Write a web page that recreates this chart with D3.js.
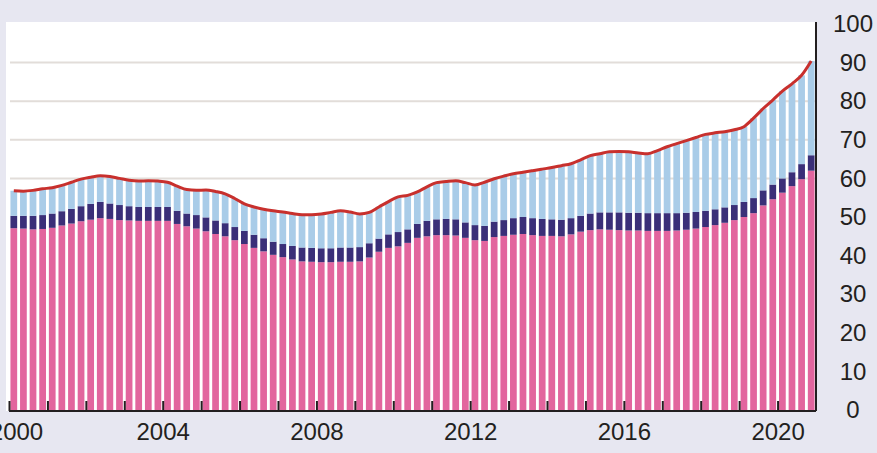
<!DOCTYPE html>
<html>
<head>
<meta charset="utf-8">
<script src="https://cdn.jsdelivr.net/npm/d3@7"></script>
<style>
  html, body { margin: 0; padding: 0; background: #e7e7f1; }
  svg { display: block; font-family: "Liberation Sans", Arial, Helvetica, sans-serif; }
</style>
</head>
<body>
<svg id="chart" width="877" height="453"></svg>
<script>
// ---- Data (quarterly, 2000Q1 - 2020Q4) ----
const years = d3.range(2000, 2021);
const quarters = years.flatMap(yr => ["Q1", "Q2", "Q3", "Q4"].map(q => yr + q));

const pinkValues = [
  47.1, 47.0, 46.8, 46.9, 47.2, 47.8, 48.3, 48.9, 49.3, 49.7, 49.5, 49.2,
  49.1, 49.0, 49.0, 49.0, 49.0, 48.2, 47.6, 47.0, 46.3, 45.6, 45.0, 44.0,
  43.0, 42.0, 41.1, 40.2, 39.6, 39.0, 38.5, 38.4, 38.3, 38.3, 38.4, 38.4,
  38.5, 39.5, 41.0, 42.0, 42.4, 43.3, 44.6, 45.0, 45.3, 45.3, 45.2, 44.6,
  44.0, 43.8, 44.8, 45.1, 45.4, 45.6, 45.3, 45.1, 45.1, 45.0, 45.5, 46.2,
  46.6, 46.8, 46.7, 46.6, 46.5, 46.5, 46.4, 46.4, 46.4, 46.5, 46.7, 47.0,
  47.4, 47.9, 48.5, 49.2, 50.0, 51.0, 53.0, 54.6, 56.3, 58.0, 59.8, 62.0
];
const darkValues = [
  3.2, 3.3, 3.5, 3.6, 3.7, 3.7, 3.8, 3.9, 4.1, 4.2, 4.0, 3.9,
  3.7, 3.6, 3.6, 3.6, 3.6, 3.4, 3.3, 3.5, 3.6, 3.5, 3.4, 3.4,
  3.4, 3.4, 3.4, 3.4, 3.4, 3.5, 3.6, 3.6, 3.6, 3.6, 3.7, 3.7,
  3.7, 3.7, 3.4, 3.5, 3.7, 3.5, 3.6, 4.0, 4.1, 4.2, 4.2, 4.0,
  3.9, 3.9, 4.0, 4.1, 4.3, 4.4, 4.4, 4.4, 4.3, 4.3, 4.2, 4.1,
  4.3, 4.4, 4.5, 4.6, 4.6, 4.6, 4.6, 4.6, 4.6, 4.5, 4.4, 4.3,
  4.2, 4.1, 4.0, 3.9, 3.9, 3.9, 3.9, 3.8, 3.7, 3.6, 3.9, 4.0
];
const lightValues = [
  6.5, 6.4, 6.6, 6.8, 6.7, 6.7, 6.9, 7.0, 6.9, 6.8, 7.0, 6.9,
  6.7, 6.7, 6.8, 6.7, 6.4, 6.4, 6.2, 6.4, 7.1, 7.5, 7.6, 7.4,
  7.0, 7.2, 7.5, 8.0, 8.3, 8.4, 8.5, 8.6, 8.9, 9.3, 9.5, 9.2,
  8.6, 8.0, 8.2, 8.5, 9.1, 8.8, 8.3, 8.8, 9.5, 9.7, 10.0, 10.3,
  10.4, 11.3, 11.1, 11.4, 11.5, 11.6, 12.3, 12.9, 13.4, 14.0, 14.1, 14.5,
  15.0, 15.2, 15.7, 15.8, 15.8, 15.5, 15.4, 16.2, 17.2, 18.0, 18.7, 19.3,
  19.8, 19.8, 19.6, 19.5, 19.5, 20.7, 21.2, 21.9, 22.6, 22.9, 23.0, 24.4
];
const yTicks = [0, 10, 20, 30, 40, 50, 60, 70, 80, 90, 100];
const gridValues = [60, 70, 80, 90];
const xLabelYears = [2000, 2004, 2008, 2012, 2016, 2020];

const seriesKeys = ["pink", "dark", "light"];
const colors = { pink: "#e2659e", dark: "#3a2f78", light: "#a9cce8" };

const rows = quarters.map((q, i) => ({
  q, pink: pinkValues[i], dark: darkValues[i], light: lightValues[i]
}));

// ---- Layout ----
const svg = d3.select("#chart");
const plot = { left: 6, right: 816, top: 22, bottom: 411 };
const xStart = 9, xEnd = 816;

const x = d3.scaleBand().domain(quarters).range([xStart, xEnd]).paddingInner(0.3).paddingOuter(0.15);
const xYear = d3.scaleLinear().domain([2000, 2021]).range([xStart, xEnd]);
const y = d3.scaleLinear().domain([0, 100]).range([410, 24]);

// plot background
svg.append("rect")
  .attr("x", plot.left).attr("y", plot.top)
  .attr("width", plot.right - plot.left).attr("height", plot.bottom - plot.top)
  .attr("fill", "#ffffff");

// gridlines
svg.append("g").selectAll("line").data(gridValues).join("line")
  .attr("x1", 10).attr("x2", plot.right)
  .attr("y1", d => y(d)).attr("y2", d => y(d))
  .attr("stroke", "#e2ddd9").attr("stroke-width", 2);

// stacked bars
const stacked = d3.stack().keys(seriesKeys)(rows);
svg.append("g").selectAll("g").data(stacked).join("g")
  .attr("fill", d => colors[d.key])
  .selectAll("rect").data(d => d).join("rect")
  .attr("x", d => x(d.data.q))
  .attr("width", x.bandwidth())
  .attr("y", d => y(d[1]))
  .attr("height", d => y(d[0]) - y(d[1]));

// total line
const totalSeries = stacked[stacked.length - 1];
svg.append("path")
  .datum(totalSeries)
  .attr("fill", "none")
  .attr("stroke", "#c8302d")
  .attr("stroke-width", 3)
  .attr("stroke-linejoin", "round")
  .attr("d", d3.line()
    .x(d => x(d.data.q) + x.bandwidth() / 2)
    .y(d => y(d[1]))
    .curve(d3.curveMonotoneX));

// x axis
const xAxis = d3.axisBottom(xYear)
  .tickValues(years)
  .tickSize(-10)
  .tickPadding(12)
  .tickFormat(d => xLabelYears.includes(d) ? String(d) : "");
const gx = svg.append("g").attr("transform", `translate(0,${plot.bottom})`).call(xAxis);
gx.select(".domain").attr("d", `M${xStart},0H${xEnd}`).attr("stroke", "#231f20").attr("stroke-width", 2);
gx.selectAll(".tick line").attr("stroke", "#231f20").attr("stroke-width", 2);
gx.selectAll(".tick text").attr("font-size", 24).attr("fill", "#231f20")
  .attr("font-family", "Liberation Sans, Arial, sans-serif");
gx.selectAll(".tick text").filter(d => d === 2000).attr("dx", 7);

// y axis (right)
const yAxis = d3.axisRight(y).tickValues(yTicks).tickSize(0).tickPadding(0);
const gy = svg.append("g").attr("transform", `translate(${plot.right},0)`).call(yAxis);
gy.select(".domain").attr("d", `M0,${plot.top}V${plot.bottom}`).attr("stroke", "#231f20").attr("stroke-width", 2);
gy.selectAll(".tick text")
  .attr("x", 37).attr("text-anchor", "middle")
  .attr("font-size", 24).attr("fill", "#231f20")
  .attr("font-family", "Liberation Sans, Arial, sans-serif");
</script>
</body>
</html>
